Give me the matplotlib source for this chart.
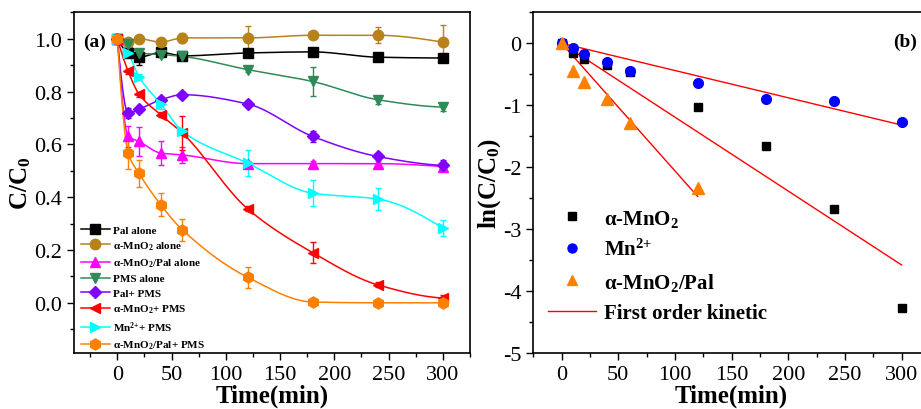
import numpy as np
import matplotlib
matplotlib.use('Agg')
import matplotlib.pyplot as plt
from matplotlib.lines import Line2D
from matplotlib.ticker import MultipleLocator

plt.rcParams['font.family'] = ['Liberation Serif', 'DejaVu Serif']
plt.rcParams['mathtext.default'] = 'regular'
plt.rcParams['axes.unicode_minus'] = False
plt.rcParams['xtick.direction'] = 'out'
plt.rcParams['ytick.direction'] = 'out'

# sampling times (min)
time = [0, 10, 20, 40, 60, 120, 180, 240, 300]

# panel (a): C/C0 for each system, with error bars
pal_alone = [1.0, 0.946, 0.93, 0.948, 0.935, 0.946, 0.95, 0.93, 0.927]
pal_alone_err = [0, 0.01, 0.03, 0.01, 0.01, 0.01, 0.01, 0.01, 0.01]
mno2_alone = [1.0, 0.986, 1.0, 0.987, 1.003, 1.003, 1.013, 1.013, 0.987]
mno2_alone_err = [0, 0.01, 0.01, 0.01, 0.02, 0.045, 0.01, 0.03, 0.065]
mno2pal_alone = [1.0, 0.63, 0.611, 0.567, 0.56, 0.527, 0.527, 0.527, 0.516]
mno2pal_alone_err = [0, 0.04, 0.055, 0.045, 0.03, 0.01, 0.01, 0.01, 0.01]
pms_alone = [1.0, 0.98, 0.946, 0.94, 0.933, 0.883, 0.838, 0.769, 0.741]
pms_alone_err = [0, 0.01, 0.01, 0.01, 0.01, 0.01, 0.055, 0.015, 0.015]
pal_pms = [1.0, 0.718, 0.733, 0.769, 0.788, 0.753, 0.63, 0.554, 0.52]
pal_pms_err = [0, 0.02, 0.01, 0.01, 0.01, 0.01, 0.02, 0.01, 0.02]
mno2_pms = [1.0, 0.876, 0.79, 0.712, 0.643, 0.356, 0.19, 0.068, 0.018]
mno2_pms_err = [0, 0.01, 0.01, 0.01, 0.065, 0.01, 0.04, 0.01, 0.01]
mn2_pms = [1.0, 0.946, 0.855, 0.754, 0.649, 0.529, 0.415, 0.393, 0.283]
mn2_pms_err = [0, 0.01, 0.01, 0.02, 0.01, 0.05, 0.05, 0.04, 0.03]
mno2pal_pms = [1.0, 0.567, 0.49, 0.371, 0.276, 0.097, 0.003, 0.0, 0.0]
mno2pal_pms_err = [0, 0.06, 0.05, 0.043, 0.042, 0.04, 0.01, 0.01, 0.01]

labels_a = ['Pal alone', 'α-MnO$_2$ alone', 'α-MnO$_2$/Pal alone', 'PMS alone',
            'Pal+ PMS', 'α-MnO$_2$+ PMS', 'Mn$^{2{+}}$+ PMS', 'α-MnO$_2$/Pal+ PMS']

# panel (b): ln(C/C0) and first order rate constants
time_b = [0, 10, 20, 40, 60, 120, 180, 240, 300]
ln_mno2 = [0, -0.15, -0.26, -0.35, -0.47, -1.03, -1.66, -2.67, -4.28]
ln_mn2 = [0, -0.07, -0.18, -0.30, -0.44, -0.64, -0.90, -0.94, -1.27]
time_b_pal = [0, 10, 20, 40, 60, 120]
ln_mno2pal = [0, -0.44, -0.62, -0.90, -1.28, -2.34]
k_mn2 = 0.0044
k_mno2 = 0.01193
k_mno2pal = 0.0206


def pchip(x, y, xs):
    # monotone cubic for the smooth connecting lines
    x = np.asarray(x, float)
    y = np.asarray(y, float)
    h = np.diff(x)
    d = np.diff(y) / h
    n = len(x)
    m = np.zeros(n)
    for k in range(1, n - 1):
        if d[k - 1] * d[k] > 0:
            w1 = 2 * h[k] + h[k - 1]
            w2 = h[k] + 2 * h[k - 1]
            m[k] = (w1 + w2) / (w1 / d[k - 1] + w2 / d[k])
    m[0] = ((2 * h[0] + h[1]) * d[0] - h[0] * d[1]) / (h[0] + h[1])
    if np.sign(m[0]) != np.sign(d[0]):
        m[0] = 0
    m[-1] = ((2 * h[-1] + h[-2]) * d[-1] - h[-1] * d[-2]) / (h[-1] + h[-2])
    if np.sign(m[-1]) != np.sign(d[-1]):
        m[-1] = 0
    idx = np.clip(np.searchsorted(x, xs) - 1, 0, n - 2)
    t = (xs - x[idx]) / h[idx]
    h00 = 2 * t**3 - 3 * t**2 + 1
    h10 = t**3 - 2 * t**2 + t
    h01 = -2 * t**3 + 3 * t**2
    h11 = t**3 - t**2
    return h00 * y[idx] + h10 * h[idx] * m[idx] + h01 * y[idx + 1] + h11 * h[idx] * m[idx + 1]


fig = plt.figure(figsize=(9.21, 4.10), dpi=100)
ax1 = fig.add_axes([0.0803, 0.1366, 0.430, 0.831])
ax2 = fig.add_axes([0.5790, 0.1366, 0.4307, 0.831])

series = [
    (pal_alone, pal_alone_err, 's', 'black', 6.5),
    (mno2_alone, mno2_alone_err, 'o', '#b8821a', 7.5),
    (mno2pal_alone, mno2pal_alone_err, '^', '#ff00ff', 7.5),
    (pms_alone, pms_alone_err, 'v', '#2e8b57', 7.5),
    (pal_pms, pal_pms_err, 'D', '#8000ff', 6.5),
    (mno2_pms, mno2_pms_err, '<', '#ff0000', 7.5),
    (mn2_pms, mn2_pms_err, '>', '#00ffff', 7.5),
    (mno2pal_pms, mno2pal_pms_err, 'h', '#ff8000', 8),
]

ts = np.linspace(0, 300, 400)
handles = []
for (vals, err, mk, col, ms), lab in zip(series, labels_a):
    ax1.plot(ts, pchip(time, vals, ts), color=col, lw=1.1, zorder=2)
    ax1.errorbar(time, vals, yerr=err, fmt=mk, color=col, ms=ms, ecolor=col,
                 elinewidth=1, capsize=2.5, capthick=1, zorder=3)
    handles.append(Line2D([], [], color=col, marker=mk, ms=ms, lw=1.1))

ax1.set_xlim(-40, 325)
ax1.set_ylim(-0.19, 1.1)
ax1.xaxis.set_major_locator(MultipleLocator(50))
ax1.xaxis.set_minor_locator(MultipleLocator(25))
ax1.yaxis.set_major_locator(MultipleLocator(0.2))
ax1.yaxis.set_minor_locator(MultipleLocator(0.1))
ax1.yaxis.set_major_formatter(plt.FuncFormatter(lambda v, p: '%.1f' % v))
ax1.tick_params(which='major', length=5, width=1, labelsize=16)
ax1.tick_params(which='minor', length=3, width=1)
ax1.set_xlabel('Time(min)', fontsize=18, fontweight='bold', labelpad=0)
ax1.set_ylabel('C/C$_0$', fontsize=18, fontweight='bold', labelpad=1)
ax1.text(0.023, 0.916, '(a)', transform=ax1.transAxes, fontsize=14,
         fontweight='bold', va='center', ha='left')
ax1.legend(handles, labels_a, loc='lower left', bbox_to_anchor=(0.0, -0.015),
           frameon=False, prop={'weight': 'bold', 'size': 8},
           handlelength=2.6, handletextpad=0.3, labelspacing=0.42,
           borderaxespad=0.2)

# panel (b)
ax2.plot(time_b, ln_mno2, 's', color='black', ms=6, zorder=3)
ax2.plot(time_b, ln_mn2, 'o', color='#0000ff', ms=7, zorder=3)
ax2.plot(time_b_pal, ln_mno2pal, '^', color='#ff8000', ms=8, zorder=3)
for k, tmax in [(k_mn2, 300), (k_mno2, 300), (k_mno2pal, 120)]:
    tt = np.array([0, tmax])
    ax2.plot(tt, -k * tt, color='#ff0000', lw=1, zorder=2)

ax2.set_xlim(-25, 325)
ax2.set_ylim(-5, 0.5)
ax2.xaxis.set_major_locator(MultipleLocator(50))
ax2.xaxis.set_minor_locator(MultipleLocator(25))
ax2.yaxis.set_major_locator(MultipleLocator(1))
ax2.yaxis.set_minor_locator(MultipleLocator(0.5))
ax2.tick_params(which='major', length=5, width=1, labelsize=16)
ax2.tick_params(which='minor', length=3, width=1)
ax2.set_xlabel('Time(min)', fontsize=18, fontweight='bold', labelpad=0)
ax2.set_ylabel('ln(C/C$_0$)', fontsize=18, fontweight='bold', labelpad=0)
ax2.text(0.907, 0.916, '(b)', transform=ax2.transAxes, fontsize=14,
         fontweight='bold', va='center', ha='left')
handles_b = [
    Line2D([], [], ls='none', marker='s', color='black', ms=6),
    Line2D([], [], ls='none', marker='o', color='#0000ff', ms=6.5),
    Line2D([], [], ls='none', marker='^', color='#ff8000', ms=7.5),
    Line2D([], [], color='#ff0000', lw=1),
]
labels_b = ['α-MnO$_2$', 'Mn$^{2{+}}$', 'α-MnO$_2$/Pal', 'First order kinetic']
ax2.legend(handles_b, labels_b, loc='lower left', bbox_to_anchor=(0.0, 0.045),
           frameon=False, prop={'weight': 'bold', 'size': 15},
           handlelength=2.3, handletextpad=0.4, labelspacing=0.5,
           borderaxespad=0.3)

for ax in (ax1, ax2):
    for s in ax.spines.values():
        s.set_linewidth(1.2)

fig.savefig('out.png', dpi=100)
